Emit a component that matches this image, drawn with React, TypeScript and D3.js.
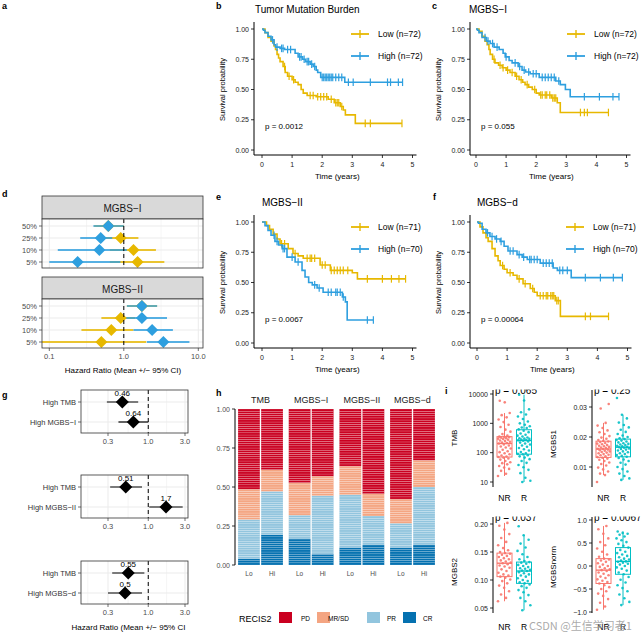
import React from 'react';
import * as d3 from 'd3';

const FONT = "'Liberation Sans', Arial, Helvetica, sans-serif";
const YEL = '#E7B800';
const BLU = '#2E9FDF';
const GRID = '#EBEBEB';
const AXT = '#4D4D4D';

// ---------------- Kaplan-Meier data (step times, survival after step, censor times) ----------------
const bLowT = [0.1, 0.2, 0.3, 0.4, 0.45, 0.5, 0.55, 0.6, 0.7, 0.77, 0.85, 1.0, 1.1, 1.2, 1.3, 1.37, 1.5, 1.8, 2.2, 2.4, 2.6, 2.7, 2.77, 3.1];
const bLowS = [0.97, 0.93, 0.9, 0.86, 0.83, 0.79, 0.76, 0.73, 0.69, 0.64, 0.61, 0.58, 0.56, 0.54, 0.5, 0.47, 0.45, 0.44, 0.42, 0.39, 0.36, 0.33, 0.29, 0.22];
const bLowC = [0.75, 0.9, 1.05, 1.6, 1.7, 1.85, 1.95, 2.05, 2.15, 2.3, 2.45, 2.5, 2.55, 2.65, 3.43, 3.6, 4.65];
const bHighT = [0.05, 0.1, 0.2, 0.3, 0.4, 0.45, 0.6, 0.75, 1.1, 1.2, 1.35, 1.45, 1.6, 1.7, 1.8, 1.85, 1.95, 2.75];
const bHighS = [0.99, 0.97, 0.94, 0.91, 0.87, 0.85, 0.84, 0.83, 0.8, 0.77, 0.75, 0.73, 0.71, 0.69, 0.66, 0.64, 0.6, 0.56];
const bHighC = [0.35, 0.5, 0.65, 0.7, 0.85, 0.95, 1.25, 1.3, 1.4, 1.5, 1.55, 1.65, 1.75, 2.0, 2.05, 2.1, 2.15, 2.2, 2.25, 2.3, 2.35, 2.45, 2.55, 2.65, 2.87, 3.03, 3.6, 4.17, 4.27, 4.53, 4.67];

const cLowT = [0.1, 0.2, 0.3, 0.37, 0.43, 0.47, 0.55, 0.63, 0.75, 0.87, 1.0, 1.13, 1.3, 1.43, 1.55, 1.63, 1.75, 1.87, 2.0, 2.1, 2.5, 2.7, 2.8];
const cLowS = [0.98, 0.94, 0.9, 0.87, 0.83, 0.79, 0.75, 0.72, 0.7, 0.68, 0.66, 0.64, 0.61, 0.58, 0.56, 0.54, 0.52, 0.5, 0.47, 0.455, 0.43, 0.39, 0.31];
const cLowC = [0.6, 0.8, 0.9, 1.05, 1.2, 1.35, 1.5, 1.7, 1.95, 2.15, 2.2, 2.3, 2.35, 2.45, 2.55, 2.6, 2.65, 3.47, 3.6, 3.7, 4.4];
const cHighT = [0.05, 0.1, 0.2, 0.35, 0.47, 0.6, 0.77, 0.9, 0.97, 1.1, 1.2, 1.4, 1.53, 1.65, 1.8, 2.1, 2.65, 2.8, 2.97, 3.13];
const cHighS = [0.99, 0.97, 0.93, 0.9, 0.88, 0.85, 0.83, 0.8, 0.77, 0.74, 0.72, 0.69, 0.66, 0.645, 0.63, 0.6, 0.57, 0.54, 0.5, 0.44];
const cHighC = [0.3, 0.4, 0.55, 0.7, 1.0, 1.3, 1.45, 1.6, 1.75, 1.9, 2.0, 2.2, 2.3, 2.4, 2.5, 2.6, 2.75, 3.6, 4.1, 4.55, 4.75];

const eLowT = [0.15, 0.25, 0.37, 0.5, 0.6, 0.87, 1.03, 1.2, 1.37, 1.93, 2.27, 3.0, 3.17];
const eLowS = [0.97, 0.94, 0.9, 0.86, 0.82, 0.78, 0.74, 0.72, 0.7, 0.645, 0.6, 0.58, 0.53];
const eLowC = [0.65, 0.75, 1.1, 1.5, 1.6, 1.65, 1.75, 2.0, 2.1, 2.3, 2.4, 2.5, 2.6, 2.7, 2.85, 3.5, 4.0, 4.3, 4.55, 4.77];
const eHighT = [0.1, 0.2, 0.3, 0.43, 0.55, 0.67, 0.83, 1.1, 1.33, 1.43, 1.55, 1.67, 1.83, 2.03, 2.67, 2.77, 2.83];
const eHighS = [0.97, 0.93, 0.89, 0.84, 0.81, 0.78, 0.71, 0.67, 0.6, 0.545, 0.5, 0.48, 0.455, 0.42, 0.38, 0.34, 0.19];
const eHighC = [0.4, 0.5, 0.7, 0.75, 1.0, 1.2, 1.75, 1.9, 2.2, 2.3, 2.45, 2.5, 2.6, 2.7, 3.5, 3.7];

const fLowT = [0.1, 0.2, 0.3, 0.37, 0.5, 0.6, 0.7, 0.77, 0.9, 1.0, 1.2, 1.33, 1.53, 1.77, 1.9, 2.0, 2.6, 2.77];
const fLowS = [0.96, 0.91, 0.87, 0.84, 0.78, 0.72, 0.68, 0.64, 0.61, 0.58, 0.56, 0.53, 0.49, 0.45, 0.42, 0.39, 0.35, 0.22];
const fLowC = [0.85, 1.1, 1.4, 1.6, 1.85, 2.1, 2.2, 2.3, 2.35, 2.45, 2.5, 2.55, 2.65, 2.7, 3.6, 3.77, 4.37];
const fHighT = [0.05, 0.17, 0.3, 0.43, 0.6, 0.77, 0.9, 1.03, 1.33, 1.5, 1.67, 2.1, 2.53, 2.67, 3.13];
const fHighS = [0.99, 0.94, 0.91, 0.88, 0.86, 0.84, 0.8, 0.76, 0.73, 0.71, 0.69, 0.66, 0.62, 0.6, 0.54];
const fHighC = [0.35, 0.5, 0.65, 0.8, 1.1, 1.2, 1.4, 1.55, 1.75, 1.8, 1.9, 2.0, 2.2, 2.3, 2.4, 2.5, 2.75, 2.85, 3.0, 3.6, 4.1, 4.53, 4.83];

const kmTicksX = [0, 1, 2, 3, 4, 5];
const kmTicksY = [0, 0.25, 0.5, 0.75, 1];

// ---------------- Panel d data ----------------
const dCuts = ['50%', '25%', '10%', '5%'];
const d1YelHR = [0.62, 0.91, 1.35, 1.53];
const d1YelLo = [0.4, 0.5, 0.65, 0.65];
const d1YelHi = [1.0, 1.57, 2.7, 3.5];
const d1BluHR = [0.62, 0.49, 0.47, 0.24];
const d1BluLo = [0.39, 0.26, 0.13, 0.1];
const d1BluHi = [1.0, 0.7, 1.1, 0.9];
const d2YelHR = [1.75, 0.91, 0.68, 0.5];
const d2YelLo = [1.1, 0.5, 0.27, 0.08];
const d2YelHi = [2.8, 1.42, 1.35, 2.0];
const d2BluHR = [1.75, 1.75, 2.4, 3.4];
const d2BluLo = [1.1, 1.05, 1.35, 2.04];
const d2BluHi = [2.8, 3.8, 4.56, 7.6];
const dTicks = [0.1, 1, 10];
const dTickLabels = ['0.1', '1.0', '10.0'];

// ---------------- Panel g data ----------------
const g1Labels = ['High TMB', 'High MGBS−I'];
const g1HR = [0.46, 0.64];
const g1Lo = [0.29, 0.41];
const g1Hi = [0.74, 1.0];
const g2Labels = ['High TMB', 'High MGBS−II'];
const g2HR = [0.51, 1.7];
const g2Lo = [0.32, 1.03];
const g2Hi = [0.83, 2.8];
const g3Labels = ['High TMB', 'High MGBS−d'];
const g3HR = [0.55, 0.5];
const g3Lo = [0.34, 0.3];
const g3Hi = [0.89, 0.83];
const gTicks = [0.3, 1, 3];
const gTickLabels = ['0.3', '1.0', '3.0'];

// ---------------- Panel h data (patient counts, bottom to top) ----------------
const hGroups = ['TMB', 'MGBS−I', 'MGBS−II', 'MGBS−d'];
const hLevels = ['Lo', 'Hi'];
const hCR = [3, 14, 12, 5, 8, 9, 8, 9];
const hPR = [18, 20, 11, 27, 24, 13, 11, 26];
const hMR = [14, 10, 15, 9, 13, 10, 11, 12];
const hPD = [37, 28, 34, 31, 26, 38, 41, 23];
const hCats = ['PD', 'MR/SD', 'PR', 'CR'];
const hColors = ['#CA0020', '#F4A582', '#92C5DE', '#0571B0'];
const hTicks = [0, 0.25, 0.5, 0.75, 1];

// ---------------- Panel i data ----------------
const tmbNR = [16, 19, 24, 28, 31, 35, 40, 44, 47, 52, 58, 63, 68, 71, 74, 80, 88, 95, 104, 112, 125, 138, 150, 162, 175, 190, 205, 214, 222, 235, 248, 260, 275, 290, 300, 312, 325, 338, 345, 352, 380, 430, 520, 610, 750, 900, 1100, 1350, 1600, 1900, 2240, 5200, 5900];
const tmbR = [10, 11, 14, 20, 26, 32, 38, 45, 52, 60, 68, 75, 82, 88, 91, 95, 105, 118, 130, 145, 160, 175, 190, 205, 220, 240, 255, 265, 270, 280, 295, 300, 310, 330, 355, 380, 410, 450, 500, 560, 620, 690, 720, 800, 900, 1000, 1150, 1400, 1700, 2000, 2400, 3000, 6000, 9500];
const m1NR = [0.005, 0.0073, 0.0078, 0.0085, 0.0092, 0.0098, 0.0105, 0.011, 0.0115, 0.012, 0.0124, 0.0128, 0.0131, 0.0133, 0.0136, 0.0139, 0.0141, 0.0143, 0.0146, 0.0148, 0.015, 0.0152, 0.0154, 0.0156, 0.0158, 0.016, 0.0161, 0.0163, 0.0165, 0.0167, 0.0169, 0.0171, 0.0173, 0.0176, 0.0178, 0.018, 0.0183, 0.0185, 0.0187, 0.019, 0.0194, 0.0198, 0.0203, 0.021, 0.0216, 0.0222, 0.023, 0.0238, 0.0247, 0.0295, 0.031];
const m1R = [0.0057, 0.0062, 0.007, 0.0078, 0.0085, 0.0093, 0.01, 0.0108, 0.0114, 0.012, 0.0125, 0.013, 0.0134, 0.0137, 0.014, 0.0143, 0.0146, 0.0149, 0.0152, 0.0155, 0.0158, 0.016, 0.0162, 0.0164, 0.0166, 0.0167, 0.0169, 0.0171, 0.0173, 0.0175, 0.0177, 0.0179, 0.0182, 0.0185, 0.0188, 0.019, 0.0193, 0.0196, 0.02, 0.0205, 0.021, 0.0217, 0.0224, 0.0232, 0.024, 0.0248, 0.0262, 0.0274, 0.033];
const m2NR = [0.062, 0.068, 0.074, 0.08, 0.086, 0.09, 0.094, 0.098, 0.101, 0.104, 0.106, 0.108, 0.11, 0.113, 0.116, 0.119, 0.122, 0.124, 0.126, 0.128, 0.13, 0.131, 0.133, 0.135, 0.137, 0.139, 0.141, 0.143, 0.145, 0.147, 0.148, 0.15, 0.153, 0.157, 0.162, 0.168, 0.175, 0.182, 0.19, 0.197, 0.202];
const m2R = [0.046, 0.055, 0.062, 0.068, 0.073, 0.078, 0.082, 0.086, 0.089, 0.092, 0.094, 0.096, 0.098, 0.1, 0.103, 0.106, 0.108, 0.11, 0.112, 0.114, 0.116, 0.117, 0.118, 0.12, 0.121, 0.123, 0.125, 0.127, 0.129, 0.131, 0.132, 0.134, 0.137, 0.141, 0.146, 0.152, 0.158, 0.165, 0.172, 0.18, 0.196];
const mnNR = [-0.95, -0.88, -0.8, -0.72, -0.65, -0.6, -0.55, -0.5, -0.46, -0.42, -0.38, -0.35, -0.32, -0.29, -0.26, -0.23, -0.2, -0.17, -0.14, -0.11, -0.09, -0.07, -0.05, -0.02, 0.0, 0.03, 0.06, 0.09, 0.12, 0.14, 0.16, 0.2, 0.25, 0.31, 0.38, 0.45, 0.52, 0.6, 0.7, 0.8, 0.87];
const mnR = [-0.85, -0.78, -0.7, -0.62, -0.55, -0.48, -0.42, -0.36, -0.3, -0.24, -0.18, -0.14, -0.1, -0.06, -0.03, 0.0, 0.03, 0.05, 0.07, 0.09, 0.1, 0.12, 0.14, 0.16, 0.19, 0.22, 0.25, 0.28, 0.31, 0.35, 0.4, 0.44, 0.48, 0.52, 0.56, 0.6, 0.64, 0.68, 0.7, 0.72, 0.75];
const NRCOL = '#F8766D';
const RCOL = '#00BFC4';

// ======================================================================

function survAt(ts: number[], ss: number[], t: number) {
  let s = 1;
  for (let i = 0; i < ts.length; i++) if (ts[i] <= t) s = ss[i];
  return s;
}

type KM = { t: number[]; s: number[]; c: number[] };

function KMCurve({ d, x, y, color }: { d: KM; x: any; y: any; color: string }) {
  const end = d3.max(d.c) as number;
  const pts: [number, number][] = [[0, 1], ...d.t.map((t, i) => [t, d.s[i]] as [number, number]), [end, d.s[d.s.length - 1]]];
  const line = d3.line<[number, number]>().x(p => x(p[0])).y(p => y(p[1])).curve(d3.curveStepAfter);
  return (
    <g>
      <path d={line(pts) || ''} fill="none" stroke={color} strokeWidth={1.6} />
      {d.c.map((t, i) => {
        const s = survAt(d.t, d.s, t);
        return <line key={i} x1={x(t)} x2={x(t)} y1={y(s) - 3.8} y2={y(s) + 3.8} stroke={color} strokeWidth={1.2} />;
      })}
    </g>
  );
}

function KMPanel(props: { axisX: number; t0: number; yTop: number; yBot: number; title: string; titleX: number; low: KM; high: KM; nLow: number; nHigh: number; p: string; legX: number }) {
  const { axisX, t0, yTop, yBot, title, titleX, low, high, nLow, nHigh, p, legX } = props;
  const x = d3.scaleLinear().domain([0, 5]).range([t0, t0 + 150.5]);
  const y = d3.scaleLinear().domain([0, 1]).range([yBot, yTop]);
  const axY = yBot + 5;
  const legY = [yTop + 5, yTop + 27];
  const legCols = [YEL, BLU];
  const legTxt = [`Low (n=${nLow})`, `High (n=${nHigh})`];
  return (
    <g fontFamily={FONT}>
      <text x={titleX} y={yTop - 16} fontSize={10} fill="#000">{title}</text>
      <line x1={axisX} x2={axisX} y1={yTop - 7} y2={axY} stroke="#000" strokeWidth={1} />
      <line x1={axisX} x2={x(5) + 4} y1={axY} y2={axY} stroke="#000" strokeWidth={1} />
      {kmTicksY.map(v => (
        <g key={v}>
          <line x1={axisX - 3} x2={axisX} y1={y(v)} y2={y(v)} stroke="#000" strokeWidth={0.8} />
          <text x={axisX - 5} y={y(v) + 2.5} fontSize={7} textAnchor="end" fill="#222">{v.toFixed(2)}</text>
        </g>
      ))}
      {kmTicksX.map(v => (
        <g key={v}>
          <line x1={x(v)} x2={x(v)} y1={axY} y2={axY + 3} stroke="#000" strokeWidth={0.8} />
          <text x={x(v)} y={axY + 12} fontSize={7} textAnchor="middle" fill="#222">{v}</text>
        </g>
      ))}
      <text transform={`translate(${axisX - 29},${(yTop + yBot) / 2}) rotate(-90)`} fontSize={7.5} textAnchor="middle" fill="#000">Survival probability</text>
      <text x={x(2.5)} y={yBot + 29} fontSize={8} textAnchor="middle" fill="#000">Time (years)</text>
      <KMCurve d={low} x={x} y={y} color={YEL} />
      <KMCurve d={high} x={x} y={y} color={BLU} />
      {legY.map((ly, i) => (
        <g key={i}>
          <line x1={legX} x2={legX + 18} y1={ly} y2={ly} stroke={legCols[i]} strokeWidth={1.8} />
          <line x1={legX + 9} x2={legX + 9} y1={ly - 4} y2={ly + 4} stroke={legCols[i]} strokeWidth={1.4} />
          <text x={legX + 27} y={ly + 3} fontSize={8.5} fill="#000">{legTxt[i]}</text>
        </g>
      ))}
      <text x={axisX + 11} y={yTop + 100} fontSize={8} fill="#000">{p}</text>
    </g>
  );
}

function diamond(cx: number, cy: number, r: number) {
  return `M${cx},${cy - r}L${cx + r},${cy}L${cx},${cy + r}L${cx - r},${cy}Z`;
}

function DFacet({ stripTop, panelTop, label, yel, blu, showAxis }: { stripTop: number; panelTop: number; label: string; yel: number[][]; blu: number[][]; showAxis: boolean }) {
  const L = 42, R = 203, H = 49;
  const x = d3.scaleLog().domain([0.1, 10]).range([49.3, 198.3]);
  const rowY = (i: number) => panelTop + 7 + i * 12;
  const clipId = `dclip${panelTop}`;
  const minors = [Math.sqrt(0.1), Math.sqrt(10)];
  const series = [{ d: yel, c: YEL }, { d: blu, c: BLU }];
  return (
    <g fontFamily={FONT}>
      <defs><clipPath id={clipId}><rect x={L} y={panelTop} width={R - L} height={H} /></clipPath></defs>
      <rect x={L} y={stripTop} width={R - L} height={panelTop - stripTop} fill="#D9D9D9" stroke="#333" strokeWidth={0.8} />
      <text x={(L + R) / 2} y={stripTop + 15.5} fontSize={10} textAnchor="middle" fill="#1A1A1A">{label}</text>
      <rect x={L} y={panelTop} width={R - L} height={H} fill="#fff" />
      {minors.map(v => <line key={v} x1={x(v)} x2={x(v)} y1={panelTop} y2={panelTop + H} stroke={GRID} strokeWidth={0.5} />)}
      {dTicks.map(v => <line key={v} x1={x(v)} x2={x(v)} y1={panelTop} y2={panelTop + H} stroke={GRID} strokeWidth={1} />)}
      {dCuts.map((c, i) => <line key={c} x1={L} x2={R} y1={rowY(i)} y2={rowY(i)} stroke={GRID} strokeWidth={1} />)}
      <g clipPath={`url(#${clipId})`}>
        {series.map((s, k) => (
          <g key={k}>
            {dCuts.map((c, i) => (
              <line key={c} x1={x(s.d[1][i])} x2={x(s.d[2][i])} y1={rowY(i)} y2={rowY(i)} stroke={s.c} strokeWidth={1.8} strokeOpacity={0.8} />
            ))}
          </g>
        ))}
        {series.map((s, k) => (
          <g key={k}>
            {dCuts.map((c, i) => <path key={c} d={diamond(x(s.d[0][i]), rowY(i), 6)} fill={s.c} />)}
          </g>
        ))}
      </g>
      <line x1={x(1)} x2={x(1)} y1={panelTop} y2={panelTop + H} stroke="#000" strokeWidth={1} strokeDasharray="4,3" />
      <rect x={L} y={panelTop} width={R - L} height={H} fill="none" stroke="#333" strokeWidth={0.8} />
      {dCuts.map((c, i) => (
        <g key={c}>
          <line x1={L - 3} x2={L} y1={rowY(i)} y2={rowY(i)} stroke="#333" strokeWidth={0.7} />
          <text x={L - 5} y={rowY(i) + 2.7} fontSize={7.5} textAnchor="end" fill={AXT}>{c}</text>
        </g>
      ))}
      {showAxis && dTicks.map((v, i) => (
        <g key={v}>
          <line x1={x(v)} x2={x(v)} y1={panelTop + H} y2={panelTop + H + 3} stroke="#333" strokeWidth={0.7} />
          <text x={x(v)} y={panelTop + H + 11} fontSize={7.5} textAnchor="middle" fill={AXT}>{dTickLabels[i]}</text>
        </g>
      ))}
    </g>
  );
}

function GPanel({ top, labels, hr, lo, hi, title }: { top: number; labels: string[]; hr: number[]; lo: number[]; hi: number[]; title?: string }) {
  const L = 81, R = 188, H = 43;
  const x = d3.scaleLog().domain([0.3, 3]).range([108, 185]);
  const rows = [top + 12, top + 32];
  const minors = [0.164, Math.sqrt(0.3), Math.sqrt(3)];
  return (
    <g fontFamily={FONT}>
      <rect x={L} y={top} width={R - L} height={H} fill="#fff" />
      {minors.map(v => <line key={v} x1={x(v)} x2={x(v)} y1={top} y2={top + H} stroke={GRID} strokeWidth={0.5} />)}
      {gTicks.map(v => <line key={v} x1={x(v)} x2={x(v)} y1={top} y2={top + H} stroke={GRID} strokeWidth={1} />)}
      {rows.map(r => <line key={r} x1={L} x2={R} y1={r} y2={r} stroke={GRID} strokeWidth={1} />)}
      <line x1={x(1)} x2={x(1)} y1={top} y2={top + H} stroke="#000" strokeWidth={1} strokeDasharray="4,3" />
      {labels.map((lab, i) => (
        <g key={lab}>
          <line x1={x(lo[i])} x2={x(hi[i])} y1={rows[i]} y2={rows[i]} stroke="#000" strokeWidth={1.2} />
          <path d={diamond(x(hr[i]), rows[i], 6.5)} fill="#000" />
          <text x={x(hr[i])} y={rows[i] - 6.5} fontSize={8} textAnchor="middle" fill="#000">{String(hr[i])}</text>
          <line x1={L - 3} x2={L} y1={rows[i]} y2={rows[i]} stroke="#333" strokeWidth={0.7} />
          <text x={L - 5} y={rows[i] + 2.7} fontSize={7.5} textAnchor="end" fill="#333">{lab}</text>
        </g>
      ))}
      <rect x={L} y={top} width={R - L} height={H} fill="none" stroke="#333" strokeWidth={0.8} />
      {gTicks.map((v, i) => (
        <g key={v}>
          <line x1={x(v)} x2={x(v)} y1={top + H} y2={top + H + 3} stroke="#333" strokeWidth={0.7} />
          <text x={x(v)} y={top + H + 11} fontSize={7.5} textAnchor="middle" fill={AXT}>{gTickLabels[i]}</text>
        </g>
      ))}
      {title && <text x={128.5} y={top + H + 26} fontSize={8} textAnchor="middle" fill="#000">{title}</text>}
    </g>
  );
}

function HPanel() {
  const y = d3.scaleLinear().domain([0, 1]).range([565, 409]);
  const fx = d3.scaleBand<string>().domain(hGroups).range([238, 435]).paddingInner(0.112);
  const bx = d3.scaleBand<string>().domain(hLevels).range([0, fx.bandwidth()]).paddingInner(0.05);
  const bars: { g: string; l: string; counts: number[] }[] = [];
  hGroups.forEach((g, gi) => hLevels.forEach((l, li) => {
    const k = gi * 2 + li;
    bars.push({ g, l, counts: [hCR[k], hPR[k], hMR[k], hPD[k]] });
  }));
  const colsBottomUp = ['#0571B0', '#92C5DE', '#F4A582', '#CA0020'];
  const legX = [279, 317, 367, 403];
  const legTX = [301, 328, 387, 423];
  return (
    <g fontFamily={FONT}>
      {bars.map((b, bi) => {
        const n = d3.sum(b.counts);
        const x0 = (fx(b.g) as number) + (bx(b.l) as number);
        const w = bx.bandwidth();
        const rects: JSX.Element[] = [];
        let idx = 0;
        b.counts.forEach((cnt, ci) => {
          for (let j = 0; j < cnt; j++) {
            const y1 = y((idx + 1) / n);
            const y0 = y(idx / n);
            rects.push(<rect key={`${ci}-${j}`} x={x0} y={y1} width={w} height={y0 - y1} fill={colsBottomUp[ci]} stroke="#fff" strokeWidth={0.4} strokeOpacity={0.45} />);
            idx++;
          }
        });
        return (
          <g key={bi}>
            {rects}
            <text x={x0 + w / 2} y={576} fontSize={6.5} textAnchor="middle" fill={AXT}>{b.l}</text>
          </g>
        );
      })}
      {hGroups.map(g => (
        <text key={g} x={(fx(g) as number) + fx.bandwidth() / 2} y={403} fontSize={9} textAnchor="middle" fill="#1A1A1A">{g}</text>
      ))}
      <line x1={235} x2={235} y1={409} y2={565} stroke="#000" strokeWidth={1} />
      {hTicks.map(v => (
        <g key={v}>
          <line x1={232} x2={235} y1={y(v)} y2={y(v)} stroke="#000" strokeWidth={0.8} />
          <text x={230} y={y(v) + 2.5} fontSize={7} textAnchor="end" fill={AXT}>{v.toFixed(2)}</text>
        </g>
      ))}
      <text x={239} y={622} fontSize={9} fill="#000">RECIS2</text>
      {hCats.map((c, i) => (
        <g key={c}>
          <rect x={legX[i]} y={612} width={13} height={11} fill={hColors[i]} />
          <text x={legTX[i]} y={621} fontSize={6.5} fill="#000">{c}</text>
        </g>
      ))}
    </g>
  );
}

function boxStats(vals: number[], log: boolean) {
  const v = vals.map(d => (log ? Math.log10(d) : d)).sort(d3.ascending);
  const q1 = d3.quantile(v, 0.25) as number;
  const med = d3.quantile(v, 0.5) as number;
  const q3 = d3.quantile(v, 0.75) as number;
  const iqr = q3 - q1;
  const lo = d3.min(v.filter(d => d >= q1 - 1.5 * iqr)) as number;
  const hi = d3.max(v.filter(d => d <= q3 + 1.5 * iqr)) as number;
  const back = (d: number) => (log ? Math.pow(10, d) : d);
  return { q1: back(q1), med: back(med), q3: back(q3), lo: back(lo), hi: back(hi) };
}

function BoxPanel(props: { axisX: number; top: number; bot: number; scale: any; ticks: number[]; tickLabels: string[]; label: string; labelY: number; nr: number[]; r: number[]; log: boolean; p: string; labBase: number }) {
  const { axisX, top, bot, scale, ticks, tickLabels, label, labelY, nr, r, log, p, labBase } = props;
  const centers = [axisX + 11.5, axisX + 31];
  const groups = [{ v: nr, c: NRCOL, name: 'NR' }, { v: r, c: RCOL, name: 'R' }];
  const bw = 15;
  const clipId = `bclip${axisX}_${top}`;
  return (
    <g fontFamily={FONT}>
      <defs><clipPath id={clipId}><rect x={axisX} y={top - 0.5} width={80} height={bot - top + 10} /></clipPath></defs>
      <line x1={axisX} x2={axisX} y1={top} y2={bot} stroke="#000" strokeWidth={1} />
      {ticks.map((t, i) => (
        <g key={t}>
          <line x1={axisX - 3} x2={axisX} y1={scale(t)} y2={scale(t)} stroke="#000" strokeWidth={0.8} />
          <text x={axisX - 5} y={scale(t) + 2.5} fontSize={7} textAnchor="end" fill="#222">{tickLabels[i]}</text>
        </g>
      ))}
      <text transform={`translate(${axisX - 36},${labelY}) rotate(-90)`} fontSize={8} textAnchor="middle" fill="#000">{label}</text>
      {groups.map((g, gi) => {
        const st = boxStats(g.v, log);
        const cx = centers[gi];
        return (
          <g key={g.name}>
            <line x1={cx} x2={cx} y1={scale(st.hi)} y2={scale(st.q3)} stroke={g.c} strokeWidth={1} />
            <line x1={cx} x2={cx} y1={scale(st.q1)} y2={scale(st.lo)} stroke={g.c} strokeWidth={1} />
            <rect x={cx - bw / 2} y={scale(st.q3)} width={bw} height={scale(st.q1) - scale(st.q3)} fill="#fff" stroke={g.c} strokeWidth={1} />
            <line x1={cx - bw / 2} x2={cx + bw / 2} y1={scale(st.med)} y2={scale(st.med)} stroke={g.c} strokeWidth={1.4} />
            {g.v.map((v, i) => {
              const frac = ((i * 0.618034 + gi * 0.37) % 1) - 0.5;
              return <circle key={i} cx={cx + frac * 13} cy={scale(v)} r={1.3} fill={g.c} fillOpacity={0.9} />;
            })}
            <text x={cx} y={labBase} fontSize={8.5} textAnchor="middle" fill="#000">{g.name}</text>
          </g>
        );
      })}
      <g clipPath={`url(#${clipId})`}>
        <text x={axisX + 2} y={top + 4} fontSize={10} fill="#000">{p}</text>
      </g>
    </g>
  );
}

export default function App() {
  React.useEffect(() => { document.body.style.margin = '0'; }, []);
  const lab = (t: string, x: number, y: number) => <text x={x} y={y} fontSize={9} fontWeight="bold" fontFamily={FONT} fill="#000">{t}</text>;
  const yTMB = d3.scaleLog().domain([10, 10000]).range([482, 394]);
  const yM1 = d3.scaleLinear().domain([0.01, 0.03]).range([467, 407]);
  const yM2 = d3.scaleLinear().domain([0.05, 0.2]).range([608, 524]);
  const yMN = d3.scaleLinear().domain([-1, 1]).range([612, 520]);
  return (
    <svg width={642} height={635} style={{ position: 'absolute', left: 0, top: 0, background: '#fff' }}>
      <rect x={0} y={0} width={642} height={635} fill="#fff" />
      {lab('a', 2, 9)}{lab('b', 216, 9)}{lab('c', 432, 9)}
      {lab('d', 2, 197)}{lab('e', 216, 200)}{lab('f', 433, 200)}
      {lab('g', 2, 398)}{lab('h', 216, 396)}{lab('i', 445, 394)}

      <KMPanel axisX={254} t0={262} yTop={29} yBot={150} title="Tumor Mutation Burden" titleX={255}
        low={{ t: bLowT, s: bLowS, c: bLowC }} high={{ t: bHighT, s: bHighS, c: bHighC }} nLow={72} nHigh={72} p="p = 0.0012" legX={351} />
      <KMPanel axisX={470} t0={476} yTop={29} yBot={150} title="MGBS−I" titleX={469}
        low={{ t: cLowT, s: cLowS, c: cLowC }} high={{ t: cHighT, s: cHighS, c: cHighC }} nLow={72} nHigh={72} p="p = 0.055" legX={567} />
      <KMPanel axisX={254} t0={262} yTop={222} yBot={343} title="MGBS−II" titleX={262}
        low={{ t: eLowT, s: eLowS, c: eLowC }} high={{ t: eHighT, s: eHighS, c: eHighC }} nLow={71} nHigh={70} p="p = 0.0067" legX={351} />
      <KMPanel axisX={470} t0={477} yTop={222} yBot={343} title="MGBS−d" titleX={477}
        low={{ t: fLowT, s: fLowS, c: fLowC }} high={{ t: fHighT, s: fHighS, c: fHighC }} nLow={71} nHigh={70} p="p = 0.00064" legX={566} />

      <DFacet stripTop={196} panelTop={219} label="MGBS−I" yel={[d1YelHR, d1YelLo, d1YelHi]} blu={[d1BluHR, d1BluLo, d1BluHi]} showAxis={false} />
      <DFacet stripTop={277} panelTop={299} label="MGBS−II" yel={[d2YelHR, d2YelLo, d2YelHi]} blu={[d2BluHR, d2BluLo, d2BluHi]} showAxis={true} />
      <text x={123} y={373} fontSize={8} textAnchor="middle" fontFamily={FONT} fill="#000">Hazard Ratio (Mean +/− 95% CI)</text>

      <GPanel top={390} labels={g1Labels} hr={g1HR} lo={g1Lo} hi={g1Hi} />
      <GPanel top={475} labels={g2Labels} hr={g2HR} lo={g2Lo} hi={g2Hi} />
      <GPanel top={561} labels={g3Labels} hr={g3HR} lo={g3Lo} hi={g3Hi} title="Hazard Ratio (Mean +/− 95% CI" />

      <HPanel />

      <BoxPanel axisX={493} top={390} bot={487} scale={yTMB} ticks={[10, 100, 1000, 10000]} tickLabels={['10', '100', '1000', '10000']} label="TMB" labelY={438} nr={tmbNR} r={tmbR} log={true} p="p = 0.065" labBase={501} />
      <BoxPanel axisX={592} top={390} bot={487} scale={yM1} ticks={[0.01, 0.02, 0.03]} tickLabels={['0.01', '0.02', '0.03']} label="MGBS1" labelY={444} nr={m1NR} r={m1R} log={false} p="p = 0.25" labBase={501} />
      <BoxPanel axisX={493} top={517} bot={613} scale={yM2} ticks={[0.05, 0.1, 0.15, 0.2]} tickLabels={['0.05', '0.10', '0.15', '0.20']} label="MGBS2" labelY={572} nr={m2NR} r={m2R} log={false} p="p = 0.037" labBase={630} />
      <BoxPanel axisX={592} top={517} bot={613} scale={yMN} ticks={[-1, -0.5, 0, 0.5, 1]} tickLabels={['−1.0', '−0.5', '0.0', '0.5', '1.0']} label="MGBSnorm" labelY={567} nr={mnNR} r={mnR} log={false} p="p = 0.0067" labBase={630} />

      <text x={529} y={630} fontSize={11} fontFamily="'Noto Sans CJK SC', 'Liberation Sans', sans-serif" fill="#9A9A9A" fillOpacity={0.85}>CSDN @生信学习者1</text>
    </svg>
  );
}
